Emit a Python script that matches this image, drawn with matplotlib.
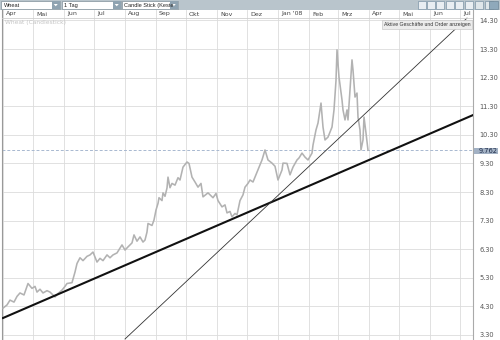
import matplotlib
matplotlib.use("Agg")
import matplotlib.pyplot as plt
from matplotlib.patches import Rectangle, Polygon
import pandas as pd

# ---------------- data ----------------
dates = ["2007-04-01","2007-04-05","2007-04-08","2007-04-12","2007-04-15","2007-04-18","2007-04-22",
         "2007-04-26","2007-04-30","2007-05-03","2007-05-05","2007-05-08","2007-05-11","2007-05-15",
         "2007-05-18","2007-05-23","2007-05-26","2007-05-30","2007-06-02","2007-06-04","2007-06-09",
         "2007-06-12","2007-06-14","2007-06-17","2007-06-20","2007-06-24","2007-06-27","2007-06-30",
         "2007-07-04","2007-07-07","2007-07-10","2007-07-14","2007-07-17","2007-07-20","2007-07-24",
         "2007-07-27","2007-07-29","2007-08-01","2007-08-04","2007-08-08","2007-08-10","2007-08-13",
         "2007-08-16","2007-08-19","2007-08-21","2007-08-23","2007-08-24","2007-08-28","2007-08-30",
         "2007-09-01","2007-09-03","2007-09-04","2007-09-07","2007-09-08","2007-09-10","2007-09-12",
         "2007-09-13","2007-09-15","2007-09-17","2007-09-20","2007-09-23","2007-09-25","2007-09-28",
         "2007-10-02","2007-10-04","2007-10-07","2007-10-10","2007-10-13","2007-10-16","2007-10-18",
         "2007-10-23","2007-10-28","2007-10-31","2007-11-02","2007-11-06","2007-11-09","2007-11-11",
         "2007-11-14","2007-11-16","2007-11-19","2007-11-21","2007-11-24","2007-11-27","2007-11-29",
         "2007-12-02","2007-12-04","2007-12-07","2007-12-09","2007-12-12","2007-12-16","2007-12-19",
         "2007-12-22","2007-12-26","2007-12-29","2008-01-01","2008-01-05","2008-01-06","2008-01-10",
         "2008-01-13","2008-01-16","2008-01-20","2008-01-22","2008-01-25","2008-01-28","2008-01-31",
         "2008-02-04","2008-02-05","2008-02-08","2008-02-10","2008-02-12","2008-02-13","2008-02-15",
         "2008-02-17","2008-02-20","2008-02-24","2008-02-26","2008-02-28","2008-02-29","2008-03-02",
         "2008-03-05","2008-03-06","2008-03-08","2008-03-10","2008-03-11","2008-03-13","2008-03-15",
         "2008-03-16","2008-03-18","2008-03-20","2008-03-21","2008-03-23","2008-03-24","2008-03-26",
         "2008-03-27","2008-03-29","2008-03-31"]
closes = [4.24,4.35,4.52,4.45,4.65,4.77,4.70,
          5.10,4.93,5.00,4.80,4.90,4.77,4.85,
          4.80,4.63,4.75,4.87,5.00,5.10,5.13,
          5.50,5.80,6.00,5.90,6.05,6.10,6.20,
          5.85,5.98,5.90,6.10,6.00,6.10,6.17,
          6.34,6.45,6.27,6.38,6.52,6.80,6.58,
          6.73,6.55,6.62,6.90,7.20,7.13,7.32,
          7.67,7.90,8.10,8.00,8.27,8.15,8.44,
          8.82,8.45,8.60,8.54,8.80,8.72,9.17,
          9.35,9.30,8.82,8.65,8.47,8.60,8.13,
          8.27,8.10,8.25,8.00,7.78,7.85,7.57,
          7.62,7.43,7.55,7.50,8.00,8.20,8.47,
          8.60,8.72,8.65,8.82,9.07,9.42,9.77,
          9.42,9.31,9.20,8.72,9.07,9.31,9.30,
          8.90,9.17,9.42,9.49,9.66,9.52,9.42,
          9.66,9.94,10.47,10.71,11.17,11.41,10.57,
          10.12,10.22,10.57,11.17,12.20,13.27,12.32,
          11.52,11.17,10.82,11.17,10.82,11.87,12.92,
          12.57,11.62,11.76,10.92,10.47,9.77,10.12,
          10.92,10.36,9.76]
last_price = 9.762

trend_thick_dates = ["2007-04-01", "2008-07-14"]
trend_thick_vals = [3.894, 10.99]
trend_thin_dates = ["2007-08-01", "2008-07-08"]
trend_thin_vals = [3.16, 14.38]

month_starts = ["2007-04-01","2007-05-01","2007-06-01","2007-07-01","2007-08-01","2007-09-01",
                "2007-10-01","2007-11-01","2007-12-01","2008-01-01","2008-02-01","2008-03-01",
                "2008-04-01","2008-05-01","2008-06-01","2008-07-01"]
month_labels = ["Apr","Mai","Jun","Jul","Aug","Sep","Okt","Nov","Dez","Jan '08","Feb","Mrz",
                "Apr","Mai","Jun","Jul"]
y_ticks = [3.30,4.30,5.30,6.30,7.30,8.30,9.30,10.30,11.30,12.30,13.30,14.30]
dropdown_labels = ["Wheat", "1 Tag", "Candle Stick (Keste"]

# ---------------- figure ----------------
W, H = 500, 340
fig = plt.figure(figsize=(W/100, H/100), dpi=100)
fig.patch.set_facecolor("white")
UI = "Liberation Sans"

def fx(x): return x / W
def fy(y): return 1 - y / H

ax = fig.add_axes([fx(2), 0, (473-2)/W, 330/H])
ax.set_facecolor("white")

d = pd.to_datetime(dates)
ax.plot(d, closes, color="#b2b2b2", lw=1.15, zorder=3)

ax.plot(pd.to_datetime(trend_thick_dates), trend_thick_vals, color="#111111", lw=1.5, zorder=4)
ax.plot(pd.to_datetime(trend_thin_dates), trend_thin_vals, color="#333333", lw=0.6, zorder=4)
ax.axhline(last_price, color="#a8b8d0", lw=0.7, ls=(0, (3, 2)), zorder=2)

ax.set_xlim(pd.Timestamp("2007-03-31"), pd.Timestamp("2008-07-14"))
ax.set_ylim(3.125, 14.664)

ms = pd.to_datetime(month_starts)
ax.set_xticks(ms)
ax.set_xticklabels([])
ax.tick_params(axis="x", length=0)
ax.set_yticks(y_ticks)
ax.set_yticklabels([f"{v:.2f}" for v in y_ticks])
ax.yaxis.tick_right()
ax.tick_params(axis="y", length=0, pad=4.5, labelsize=4.8, labelcolor="#555555")
ax.grid(True, color="#dcdcdc", lw=0.6, zorder=0)
for s in ["top", "bottom"]:
    ax.spines[s].set_visible(False)
ax.spines["left"].set_color("#999999")
ax.spines["right"].set_color("#aaaaaa")
ax.spines["left"].set_linewidth(0.8)
ax.spines["right"].set_linewidth(0.8)

# month label row
trans = ax.get_xaxis_transform()
row_bot = 1 - 8/330
ax.plot([0, 1], [row_bot, row_bot], transform=ax.transAxes, color="#cfcfcf", lw=0.6, zorder=5)
for m, lab in zip(ms, month_labels):
    ax.text(m + pd.Timedelta(days=3), 1 - 4/330, lab, transform=trans, fontsize=4.5,
            color="#444444", va="center", ha="left", zorder=6)
ax.text(0.006, 1 - 12.5/330, "Wheat (Candlestick)", transform=ax.transAxes, fontsize=4.3,
        color="#c4c4c4", va="center", ha="left", zorder=6)

# ---------------- toolbar ----------------
def rect(x0, y0, x1, y1, fc, ec="none", lw=0.5, z=10):
    fig.patches.append(Rectangle((fx(x0), fy(y1)), (x1-x0)/W, (y1-y0)/H, transform=fig.transFigure,
                                 facecolor=fc, edgecolor=ec, lw=lw, zorder=z))

rect(0, 0, 500, 10, "#b9c5cc")
for (x0, x1), lab in zip([(1, 52), (62, 113), (122, 170)], dropdown_labels):
    rect(x0, 1, x1+8, 9, "white", "#7f8f99", 0.5, 11)
    rect(x1, 1.5, x1+7.5, 8.5, "#8fa3b1", "none", 0.5, 12)
    cx = x1 + 3.75
    fig.patches.append(Polygon([(fx(cx-2), fy(4)), (fx(cx+2), fy(4)), (fx(cx), fy(6.3))],
                               closed=True, transform=fig.transFigure, facecolor="white",
                               edgecolor="none", zorder=13))
    fig.text(fx(x0+2.5), fy(5.2), lab, fontsize=4.1, family=UI, color="#222222",
             ha="left", va="center", zorder=13)

icon_x = [418, 427, 436, 446, 455, 465, 475, 485]
for i, x0 in enumerate(icon_x):
    fc = "#e9eef2" if i < 6 else "#dfe6ea"
    rect(x0, 1.5, x0+7.5, 8.5, fc, "#7d95a6", 0.5, 11)
rect(489, 1, 498, 9, "#8fa9bb", "#6f8798", 0.5, 12)

# ---------------- overlay labels ----------------
rect(382, 20, 472, 28.5, "#ececec", "#c9c9c9", 0.5, 14)
fig.text(fx(427), fy(24.3), "Aktive Geschäfte und Order anzeigen", fontsize=3.7, family=UI,
         color="#333333", ha="center", va="center", zorder=15)

rect(473.5, 148, 498, 154.5, "#a2b1c4", "none", 0.5, 14)
fig.text(fx(479), fy(151.3), f"{last_price:.3f}", fontsize=4.8, color="#1f2d4a",
         ha="left", va="center", zorder=15)

fig.savefig("out.png", dpi=100)
